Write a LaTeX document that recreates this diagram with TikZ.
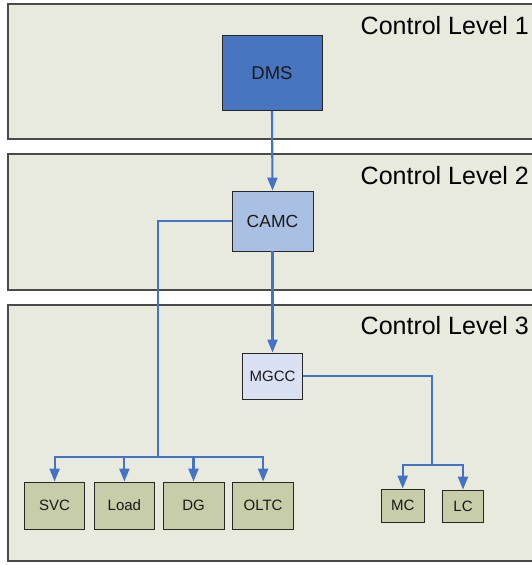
\documentclass[tikz,border=0pt]{standalone}
\usepackage{fontspec}
\setmainfont{Liberation Sans}
\usetikzlibrary{arrows.meta}
\definecolor{panelfill}{HTML}{E7EADD}
\definecolor{panelline}{HTML}{4A4A4A}
\definecolor{dmsfill}{HTML}{4775C0}
\definecolor{camcfill}{HTML}{A9C0E3}
\definecolor{mgccfill}{HTML}{D9E1F2}
\definecolor{devfill}{HTML}{C7CDA9}
\definecolor{linkblue}{HTML}{4472C4}
\tikzset{
  panel/.style={draw=panelline, line width=1.1pt, fill=panelfill},
  levellabel/.style={anchor=base west, inner sep=0pt, font=\fontsize{25}{30}\selectfont, text=black},
  box/.style={draw=black!85, line width=0.9pt, inner sep=0pt, text=black!90},
  devbox/.style={box, fill=devfill, minimum height=47pt, font=\fontsize{15}{18}\selectfont},
  smallbox/.style={box, fill=devfill, minimum height=33pt, font=\fontsize{15}{18}\selectfont},
  link/.style={draw=linkblue, line width=2.1pt},
  arrowlink/.style={link, -{Triangle[length=13pt,width=10pt]}},
}
\begin{document}
\begin{tikzpicture}[x=1pt,y=-1pt]
\clip (0,0) rectangle (532,565);
\fill[white] (0,0) rectangle (532,565);
% panels
\draw[panel] (8,4) rectangle (545,139);
\draw[panel] (8,154) rectangle (545,290);
\draw[panel] (8,305) rectangle (545,561);
\node[levellabel] (l1) at (360.5,34) {Control Level 1};
\node[levellabel] (l2) at (360.5,184) {Control Level 2};
\node[levellabel] (l3) at (360.5,334) {Control Level 3};
% main nodes
\node[box, fill=dmsfill, minimum width=100pt, minimum height=75pt, font=\fontsize{18.5}{22}\selectfont] (dms) at (272,73) {DMS};
\node[box, fill=camcfill, minimum width=81pt, minimum height=60pt, font=\fontsize{17.5}{21}\selectfont] (camc) at (272.5,221) {CAMC};
\node[box, fill=mgccfill, minimum width=60.5pt, minimum height=46pt, font=\fontsize{15}{18}\selectfont] (mgcc) at (272.5,376) {MGCC};
% devices
\node[devbox, minimum width=60.5pt] (svc) at (54.6,505.5) {SVC};
\node[devbox, minimum width=60.5pt] (load) at (124.4,505.5) {Load};
\node[devbox, minimum width=61pt] (dg) at (193.5,505.5) {DG};
\node[devbox, minimum width=60.5pt] (oltc) at (263.1,505.5) {OLTC};
\node[smallbox, minimum width=42.5pt] (mc) at (402.7,505.5) {MC};
\node[smallbox, minimum width=41pt, minimum height=32pt] (lc) at (463,506) {LC};
% junctions
\coordinate (j1) at (158,457);
\coordinate (j2) at (432.3,465);
% connectors
\draw[arrowlink] (dms.south) -- (camc.north);
\draw[arrowlink] (camc.south) -- (mgcc.north);
\draw[link] (camc.west) -| (j1);
\draw[arrowlink] (j1) -| (svc.north);
\draw[arrowlink] (j1) -| (load.north);
\draw[arrowlink] (j1) -| (dg.north);
\draw[arrowlink] (j1) -| (oltc.north);
\draw[link] (mgcc.east) -| (j2);
\draw[arrowlink] (j2) -| (mc.north);
\draw[arrowlink] (j2) -| (lc.north);
\end{tikzpicture}
\end{document}
